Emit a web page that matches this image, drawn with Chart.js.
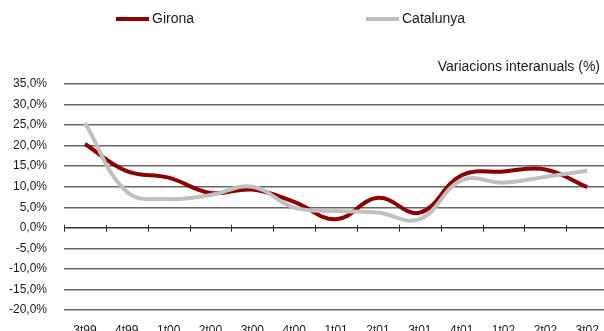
<!DOCTYPE html>
<html>
<head>
<meta charset="utf-8">
<script src="https://cdn.jsdelivr.net/npm/chart.js@4/dist/chart.umd.min.js"></script>
<style>
  html, body { margin: 0; padding: 0; background: #fff; overflow: hidden; }
  #wrap { position: relative; width: 612px; height: 345px; }
</style>
</head>
<body>
<div id="wrap"><canvas id="chart" width="612" height="345"></canvas></div>
<script>
const labels = ['3t99', '4t99', '1t00', '2t00', '3t00', '4t00', '1t01', '2t01', '3t01', '4t01', '1t02', '2t02', '3t02'];
const girona = [20.4, 13.8, 12.2, 8.5, 9.3, 6.3, 2.1, 7.3, 3.7, 12.8, 13.7, 14.2, 9.9];
const catalunya = [25.5, 8.8, 7.0, 8.0, 10.0, 4.9, 4.1, 3.7, 2.1, 11.6, 11.0, 12.4, 13.9];
const yTicks = [35, 30, 25, 20, 15, 10, 5, 0, -5, -10, -15, -20];

const textColor = '#1a1a1a';
const fontFamily = '"Liberation Sans", Arial, sans-serif';

// legend, subtitle and the tick marks on the 0% line
const extras = {
  id: 'extras',
  afterDraw(chart) {
    const ctx = chart.ctx;
    const xs = chart.scales.x;
    const ys = chart.scales.y;
    const y0 = ys.getPixelForValue(0);
    const step = (xs.right - xs.left) / labels.length;
    ctx.save();
    ctx.strokeStyle = '#333';
    ctx.lineWidth = 1;
    for (let i = 0; i <= labels.length; i++) {
      const x = Math.round(xs.left + i * step) + 0.5;
      ctx.beginPath();
      ctx.moveTo(x, y0 - 3);
      ctx.lineTo(x, y0 + 4);
      ctx.stroke();
    }

    const items = [
      { text: 'Girona', color: '#8b0000', x: 116 },
      { text: 'Catalunya', color: '#c0c0c0', x: 366 }
    ];
    ctx.font = '14px ' + fontFamily;
    ctx.textBaseline = 'middle';
    ctx.fillStyle = textColor;
    items.forEach(it => {
      ctx.strokeStyle = it.color;
      ctx.lineWidth = 4;
      ctx.beginPath();
      ctx.moveTo(it.x, 19);
      ctx.lineTo(it.x + 33, 19);
      ctx.stroke();
      ctx.textAlign = 'left';
      ctx.fillText(it.text, it.x + 36, 19);
    });

    ctx.textAlign = 'right';
    ctx.fillText('Variacions interanuals (%)', 600, 67);
    ctx.restore();
  }
};

new Chart(document.getElementById('chart'), {
  type: 'line',
  data: {
    labels: labels,
    datasets: [
      {
        label: 'Girona',
        data: girona,
        borderColor: '#8b0000',
        borderWidth: 4,
        pointRadius: 0,
        tension: 0.4,
        order: 1
      },
      {
        label: 'Catalunya',
        data: catalunya,
        borderColor: '#c0c0c0',
        borderWidth: 4,
        pointRadius: 0,
        tension: 0.4,
        order: 0
      }
    ]
  },
  options: {
    responsive: false,
    animation: false,
    devicePixelRatio: 1,
    layout: { padding: { top: 84, right: 2, left: 0, bottom: 0 } },
    plugins: {
      legend: { display: false },
      tooltip: { enabled: false },
      title: { display: false }
    },
    scales: {
      x: {
        offset: true,
        grid: { display: false, drawTicks: false },
        border: { display: false },
        afterFit(scale) { scale.height = 35; },
        ticks: {
          color: textColor,
          padding: 13,
          maxRotation: 0,
          autoSkip: false,
          font: { family: fontFamily, size: 12 }
        }
      },
      y: {
        min: -20,
        max: 35,
        afterFit(scale) { scale.width = 64; },
        afterBuildTicks(scale) {
          scale.ticks = yTicks.map(v => ({ value: v }));
        },
        grid: {
          drawTicks: false,
          color: ctx => ctx.tick && ctx.tick.value === 0 ? '#333' : '#666',
          lineWidth: 1.4
        },
        border: { display: false },
        ticks: {
          color: textColor,
          padding: 17,
          font: { family: fontFamily, size: 12 },
          callback: v => v.toFixed(1).replace('.', ',') + '%'
        }
      }
    }
  },
  plugins: [extras]
});
</script>
</body>
</html>
